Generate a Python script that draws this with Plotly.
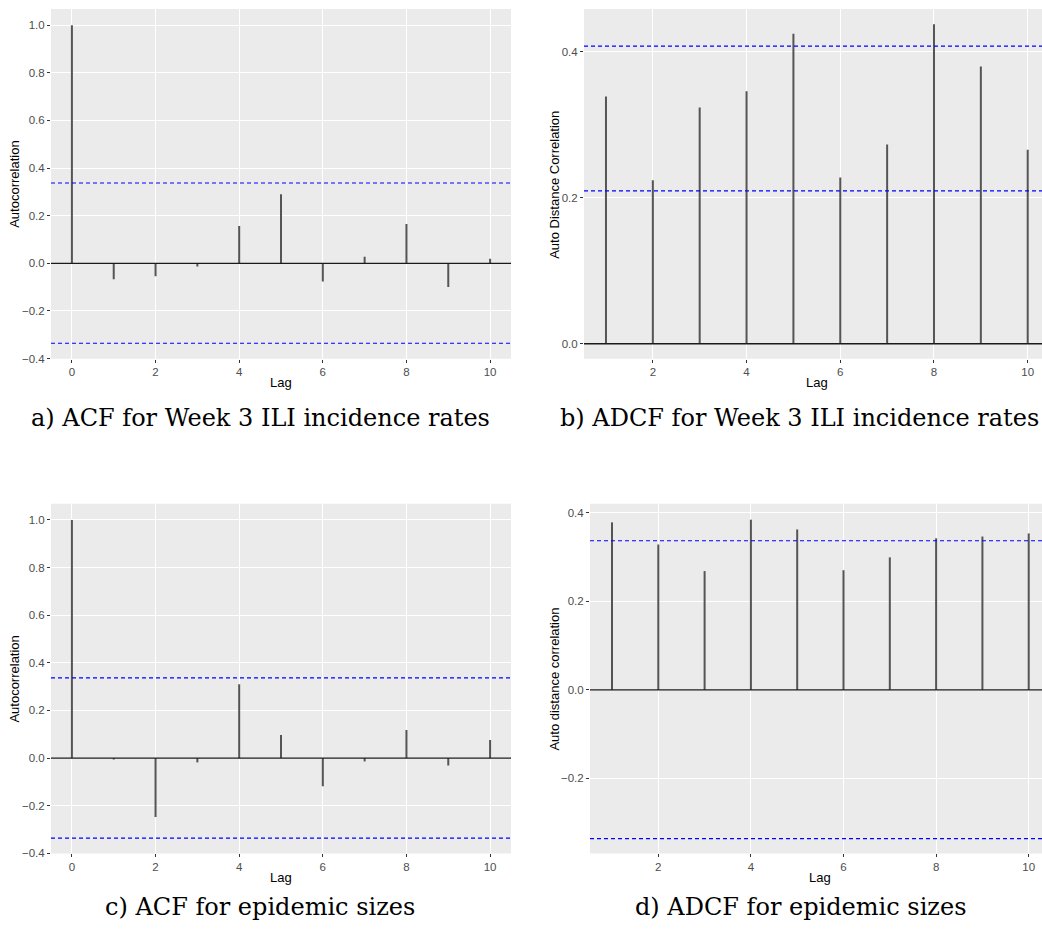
import plotly.graph_objects as go

# ---------------- data ----------------
lags_acf = [0, 1, 2, 3, 4, 5, 6, 7, 8, 9, 10]
lags_adcf = [1, 2, 3, 4, 5, 6, 7, 8, 9, 10]

acf_week3 = [1.0, -0.067, -0.054, -0.013, 0.157, 0.29, -0.076, 0.028, 0.165, -0.10, 0.019]
adcf_week3 = [0.339, 0.224, 0.324, 0.346, 0.425, 0.228, 0.273, 0.438, 0.380, 0.266]
acf_sizes = [1.0, -0.006, -0.247, -0.018, 0.31, 0.097, -0.118, -0.014, 0.118, -0.031, 0.076]
adcf_sizes = [0.378, 0.328, 0.268, 0.384, 0.362, 0.27, 0.299, 0.342, 0.346, 0.353]

conf_acf_week3 = [0.337, -0.336]
conf_adcf_week3 = [0.408, 0.2095]
conf_acf_sizes = [0.337, -0.336]
conf_adcf_sizes = [0.3366, -0.336]

captions = [
    "a) ACF for Week 3 ILI incidence rates",
    "b) ADCF for Week 3 ILI incidence rates",
    "c) ACF for epidemic sizes",
    "d) ADCF for epidemic sizes",
]
y_titles = ["Autocorrelation", "Auto Distance Correlation",
            "Autocorrelation", "Auto distance correlation"]

W, H = 1042, 935

def fx(px):
    return px / W

def fy(py):
    return 1 - py / H

panels = [
    dict(lags=lags_acf, vals=acf_week3, conf=conf_acf_week3,
         xd=(51, 511), yd=(9, 361), xr=[-0.5, 10.5], yr=[-0.4005, 1.068],
         xt=[0, 2, 4, 6, 8, 10], yt=[-0.4, -0.2, 0.0, 0.2, 0.4, 0.6, 0.8, 1.0],
         ytx=15, lagx=281, lagy=385, capx=260, capy=421),
    dict(lags=lags_adcf, vals=adcf_week3, conf=conf_adcf_week3,
         xd=(584, 1042), yd=(9, 361), xr=[0.531, 10.305], yr=[-0.0205, 0.459],
         xt=[2, 4, 6, 8, 10], yt=[0.0, 0.2, 0.4],
         ytx=555, lagx=817, lagy=385, capx=799, capy=421),
    dict(lags=lags_acf, vals=acf_sizes, conf=conf_acf_sizes,
         xd=(51, 511), yd=(507, 859), xr=[-0.5, 10.5], yr=[-0.4005, 1.068],
         xt=[0, 2, 4, 6, 8, 10], yt=[-0.4, -0.2, 0.0, 0.2, 0.4, 0.6, 0.8, 1.0],
         ytx=15, lagx=281, lagy=883, capx=260, capy=913),
    dict(lags=lags_adcf, vals=adcf_sizes, conf=conf_adcf_sizes,
         xd=(590, 1042), yd=(507, 859), xr=[0.525, 10.287], yr=[-0.3695, 0.42],
         xt=[2, 4, 6, 8, 10], yt=[-0.2, 0.0, 0.2, 0.4],
         ytx=555, lagx=820, lagy=883, capx=800, capy=913),
]

fig = go.Figure()
shapes = []
annotations = []
layout_axes = {}

tick_font = dict(family="Liberation Sans, Arial, sans-serif", size=11.5, color="#4D4D4D")
title_font = dict(family="Liberation Sans, Arial, sans-serif", size=13, color="#000000")

for i, p in enumerate(panels):
    n = "" if i == 0 else str(i + 1)
    xa, ya = "x" + n, "y" + n
    # stems
    xs, ys = [], []
    for lag, v in zip(p["lags"], p["vals"]):
        xs += [lag, lag, None]
        ys += [0, v, None]
    fig.add_trace(go.Scatter(x=xs, y=ys, mode="lines", xaxis=xa, yaxis=ya,
                             line=dict(color="#555555", width=2),
                             showlegend=False, hoverinfo="skip"))
    # zero line
    shapes.append(dict(type="line", xref=xa + " domain", yref=ya, x0=0, x1=1,
                       y0=0, y1=0, line=dict(color="#1a1a1a", width=1.3), layer="above"))
    # confidence lines
    for c in p["conf"]:
        shapes.append(dict(type="line", xref=xa + " domain", yref=ya, x0=0, x1=1,
                           y0=c, y1=c, line=dict(color="#0000FF", width=1.1, dash="4px,3px"),
                           layer="above"))
    common = dict(showgrid=True, gridcolor="#FFFFFF", gridwidth=1.1, zeroline=False,
                  showline=False, ticks="outside", ticklen=3, tickwidth=1,
                  tickcolor="#333333", tickfont=tick_font)
    layout_axes["xaxis" + n] = dict(domain=[fx(p["xd"][0]), fx(p["xd"][1])], anchor=ya,
                                   range=p["xr"], tickvals=p["xt"],
                                   ticktext=[str(t) for t in p["xt"]], **common)
    layout_axes["yaxis" + n] = dict(domain=[fy(p["yd"][1]), fy(p["yd"][0])], anchor=xa,
                                   range=p["yr"], tickvals=p["yt"], tickformat=".1f", **common)
    # panel background
    shapes.append(dict(type="rect", xref=xa + " domain", yref=ya + " domain",
                       x0=0, x1=1, y0=0, y1=1, fillcolor="#EBEBEB", line=dict(width=0),
                       layer="below"))
    # axis titles
    annotations.append(dict(text="Lag", x=fx(p["lagx"]), y=fy(p["lagy"]), xref="paper",
                            yref="paper", showarrow=False, font=title_font,
                            xanchor="center", yanchor="middle"))
    annotations.append(dict(text=y_titles[i], x=fx(p["ytx"]),
                            y=fy((p["yd"][0] + p["yd"][1]) / 2 + 1), xref="paper",
                            yref="paper", showarrow=False, font=title_font, textangle=-90,
                            xanchor="center", yanchor="middle"))
    # caption
    annotations.append(dict(text=captions[i], x=fx(p["capx"]), y=fy(p["capy"]), xref="paper",
                            yref="paper", showarrow=False,
                            font=dict(family="DejaVu Serif, serif", size=24, color="#000000"),
                            xanchor="center", yanchor="middle"))

fig.update_layout(
    width=W, height=H,
    margin=dict(l=0, r=0, t=0, b=0),
    paper_bgcolor="#FFFFFF", plot_bgcolor="rgba(0,0,0,0)",
    shapes=shapes, annotations=annotations, showlegend=False,
    **layout_axes,
)

fig.write_html("out.html")
